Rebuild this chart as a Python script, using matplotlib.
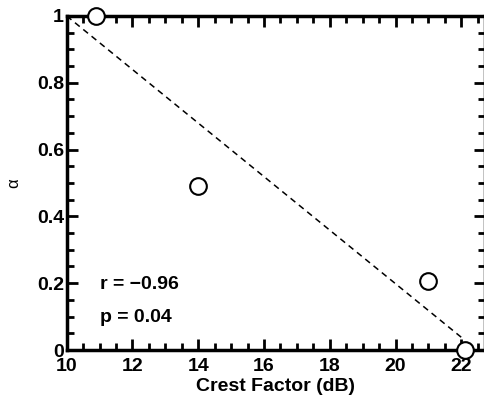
import matplotlib
matplotlib.use("Agg")
import matplotlib.pyplot as plt
from matplotlib.ticker import MultipleLocator

# Crest factor vs. alpha data
crest_factor = [10.9, 14.0, 21.0, 22.1]
alpha = [1.0, 0.49, 0.207, 0.0]

# Linear fit endpoints
fit_x = [10.0, 22.1]
fit_y = [1.0, 0.03]

r_text = "r = \u22120.96"
p_text = "p = 0.04"

plt.rcParams["font.family"] = ["Liberation Sans", "DejaVu Sans"]
plt.rcParams["font.weight"] = "bold"

fig = plt.figure(figsize=(4.85, 3.99), dpi=100)
ax = fig.add_axes([0.1375, 0.1228, 1.0 - 0.1375, 0.96 - 0.1228])

ax.plot(fit_x, fit_y, linestyle=(0, (4, 3)), color="black", linewidth=1.1)
ax.plot(crest_factor, alpha, linestyle="none", marker="o", markersize=12,
        markerfacecolor="white", markeredgecolor="black", markeredgewidth=1.5,
        clip_on=False, zorder=5)

ax.set_xlim(10, 22.72)
ax.set_ylim(0, 1)
ax.xaxis.set_major_locator(MultipleLocator(2))
ax.xaxis.set_minor_locator(MultipleLocator(0.5))
ax.yaxis.set_major_locator(MultipleLocator(0.2))
ax.yaxis.set_minor_locator(MultipleLocator(0.05))

def ylab(v, pos):
    v = round(v, 3)
    if v == 0:
        return "0"
    if v == 1:
        return "1"
    return f"{v:.1f}"
ax.yaxis.set_major_formatter(plt.FuncFormatter(ylab))

ax.tick_params(which="both", direction="in", top=True, right=True, width=2)
ax.tick_params(which="major", length=8, labelsize=14)
ax.tick_params(axis="y", which="major", pad=2)
ax.tick_params(axis="x", which="major", pad=6)
ax.tick_params(which="minor", length=5)
for lbl in ax.get_xticklabels() + ax.get_yticklabels():
    lbl.set_fontweight("bold")
for s in ax.spines.values():
    s.set_linewidth(2.5)

ax.set_xlabel("Crest Factor (dB)", fontsize=14, fontweight="bold", labelpad=2)
ax.set_ylabel("\u03b1", fontsize=12, fontweight="normal", labelpad=11)

ax.text(11.0, 0.195, r_text, fontsize=14, fontweight="bold", va="center", ha="left")
ax.text(11.0, 0.096, p_text, fontsize=14, fontweight="bold", va="center", ha="left")

fig.savefig("out.png", dpi=100)
